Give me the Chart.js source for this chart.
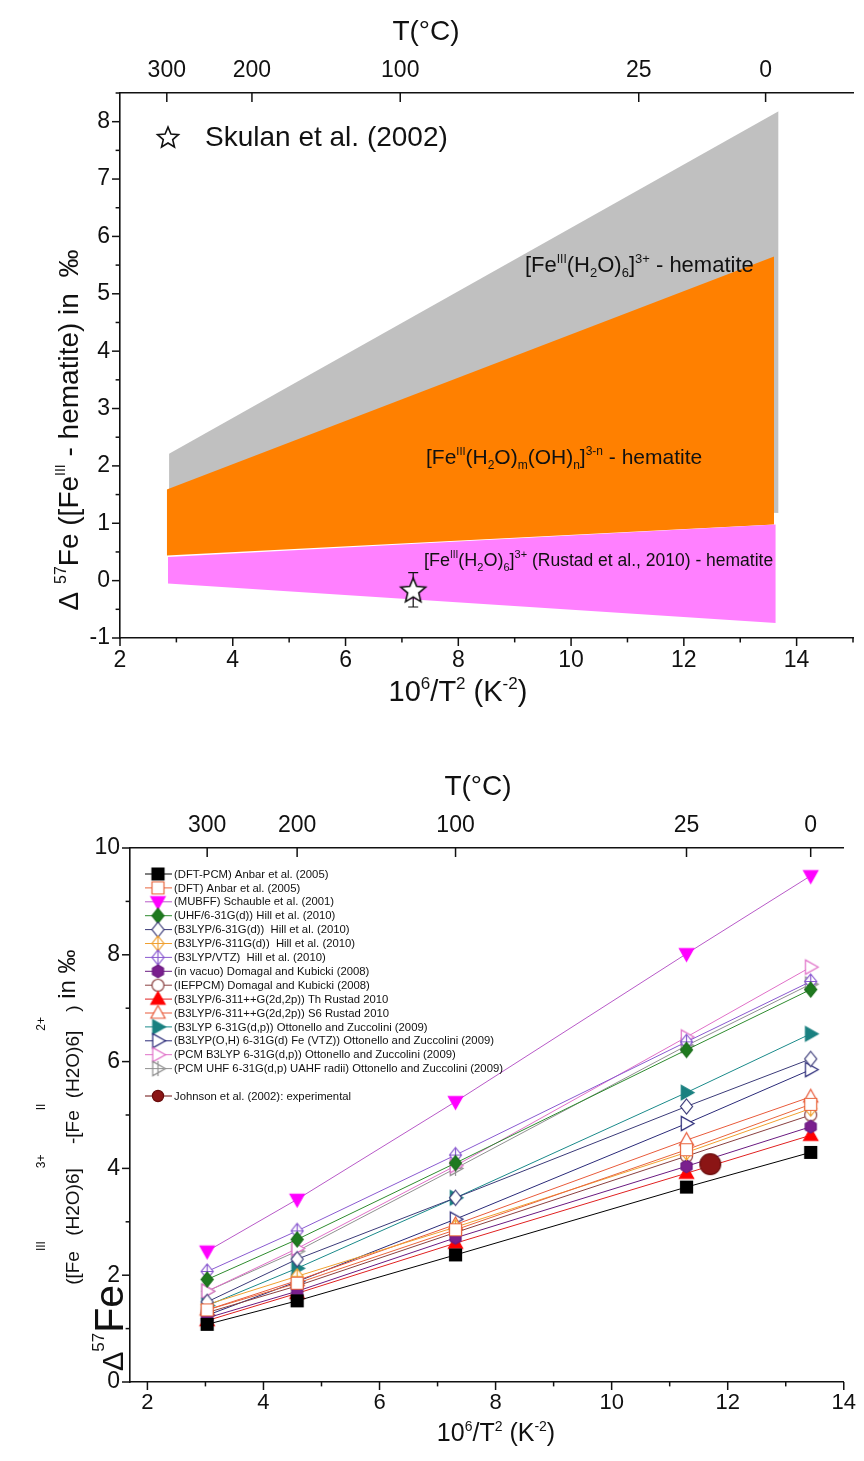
<!DOCTYPE html>
<html>
<head>
<meta charset="utf-8">
<script src="https://cdn.jsdelivr.net/npm/chart.js@4/dist/chart.umd.min.js"></script>
<style>
body { margin: 0; background: #fff; width: 864px; height: 1461px; overflow: hidden; position: relative; }
canvas { position: absolute; left: 0; }
</style>
</head>
<body>
<canvas id="topChart" width="864" height="730" style="top:0"></canvas>
<canvas id="botChart" width="864" height="731" style="top:730px"></canvas>
<script>
// ---- upper panel: fractionation bands vs hematite ----
var grayX = [2.87, 13.68],  grayLow = [1.59, 1.18],  grayHigh = [2.21, 8.18];
var orangeX = [2.83, 13.6], orangeLow = [0.44, 0.98], orangeHigh = [1.59, 5.65];
var pinkX = [2.85, 13.63],  pinkLow = [-0.05, -0.74], pinkHigh = [0.41, 0.98];
var skulanX = [7.2], skulanY = [-0.16], skulanErr = [0.3];

// temperature axis (top) labels and where they sit on the 10^6/T^2 axis
var tempLabels = ['300', '200', '100', '25', '0'];
var tempPosTop = [2.83, 4.34, 6.97, 11.2, 13.45];
var tempPosBot = [3.03, 4.58, 7.31, 11.29, 13.43];

// ---- lower panel: Fe(III)-Fe(II) hexaquo fractionation ----
var invT2 = [3.03, 4.58, 7.31, 11.29, 13.43];
var anbarPCM  = [1.08, 1.52, 2.38, 3.65, 4.30];
var anbarDFT  = [1.35, 1.85, 2.85, 4.35, 5.20];
var schauble  = [2.45, 3.42, 5.25, 8.02, 9.48];
var hillUHF   = [1.92, 2.67, 4.10, 6.22, 7.35];
var hill631   = [1.50, 2.30, 3.45, 5.16, 6.05];
var hill6311  = [1.45, 1.98, 2.90, 4.30, 5.12];
var hillVTZ   = [2.07, 2.83, 4.25, 6.37, 7.50];
var domVac    = [1.20, 1.70, 2.70, 4.04, 4.78];
var domPCM    = [1.30, 1.80, 2.80, 4.23, 5.00];
var rustadTh  = [1.15, 1.66, 2.60, 3.91, 4.62];
var rustadS6  = [1.35, 1.90, 2.95, 4.53, 5.34];
var ottB3     = [1.43, 2.13, 3.45, 5.42, 6.52];
var ottOH     = [1.25, 1.88, 3.05, 4.84, 5.85];
var ottPCMB3  = [1.70, 2.50, 4.05, 6.46, 7.77];
var ottPCMUHF = [1.70, 2.45, 4.00, 6.30, 7.45];
var johnsonX = [11.7], johnsonY = [4.08];

var FONT = '"Liberation Sans", Arial, sans-serif';
var INK = '#111';

function pts(xs, ys) {
    return xs.map(function (x, i) { return { x: x, y: ys[i] }; });
}

// draw a line of text made of pieces: [text, size, baseline shift]
function rich(ctx, parts, x, y, rot, align) {
    ctx.save();
    ctx.translate(x, y);
    ctx.rotate(rot || 0);
    var w = 0;
    parts.forEach(function (p) { ctx.font = p[1] + 'px ' + FONT; w += ctx.measureText(p[0]).width; });
    var cx = align === 'left' ? 0 : -w / 2;
    ctx.textAlign = 'left';
    ctx.textBaseline = 'alphabetic';
    ctx.fillStyle = INK;
    parts.forEach(function (p) {
        ctx.font = p[1] + 'px ' + FONT;
        ctx.fillText(p[0], cx, p[2] || 0);
        cx += ctx.measureText(p[0]).width;
    });
    ctx.restore();
}

function makeMarker(shape, stroke, fill, r) {
    var c = document.createElement('canvas');
    var n = Math.ceil(r * 2 + 4);
    c.width = c.height = n;
    var g = c.getContext('2d');
    g.translate(n / 2, n / 2);
    g.lineWidth = 1.2;
    g.strokeStyle = stroke;
    g.fillStyle = fill || '#fff';
    g.beginPath();
    var crossed = shape.charAt(0) === '+';
    var base = crossed ? shape.slice(1) : shape;
    if (base === 'square') g.rect(-r * 0.8, -r * 0.8, r * 1.6, r * 1.6);
    if (base === 'up') { g.moveTo(0, -r); g.lineTo(r * 0.95, r * 0.7); g.lineTo(-r * 0.95, r * 0.7); g.closePath(); }
    if (base === 'down') { g.moveTo(0, r); g.lineTo(r * 0.95, -r * 0.7); g.lineTo(-r * 0.95, -r * 0.7); g.closePath(); }
    if (base === 'right') { g.moveTo(r, 0); g.lineTo(-r * 0.7, -r * 0.95); g.lineTo(-r * 0.7, r * 0.95); g.closePath(); }
    if (base === 'diamond') { g.moveTo(0, -r); g.lineTo(r * 0.8, 0); g.lineTo(0, r); g.lineTo(-r * 0.8, 0); g.closePath(); }
    if (base === 'circle') g.arc(0, 0, r * 0.8, 0, Math.PI * 2);
    if (base === 'hex') {
        for (var k = 0; k < 6; k++) {
            var a = -Math.PI / 2 + k * Math.PI / 3;
            g.lineTo(r * 0.85 * Math.cos(a), r * 0.85 * Math.sin(a));
        }
        g.closePath();
    }
    g.fill();
    g.stroke();
    if (crossed) {
        g.beginPath();
        g.moveTo(0, -r); g.lineTo(0, r);
        g.moveTo(-r * 0.8, 0); g.lineTo(r * 0.8, 0);
        g.stroke();
    }
    return c;
}

function makeStar(R) {
    var c = document.createElement('canvas');
    var n = Math.ceil(R * 2 + 4);
    c.width = c.height = n;
    var g = c.getContext('2d');
    g.translate(n / 2, n / 2 + R * 0.1);
    g.beginPath();
    for (var k = 0; k < 10; k++) {
        var rr = k % 2 ? R * 0.45 : R;
        var a = -Math.PI / 2 + k * Math.PI / 5;
        g.lineTo(rr * Math.cos(a), rr * Math.sin(a));
    }
    g.closePath();
    g.fillStyle = '#fff';
    g.fill();
    g.lineWidth = 1.6;
    g.strokeStyle = INK;
    g.stroke();
    return c;
}

// tick marks drawn by hand so minor ticks can be shorter
function tickMarks(list) {
    return {
        id: 'tickMarks',
        afterDraw: function (chart) {
            var ctx = chart.ctx, a = chart.chartArea;
            ctx.save();
            ctx.strokeStyle = INK;
            ctx.lineWidth = 1.5;
            list.forEach(function (t) {
                var s = chart.scales[t.id];
                t.values.forEach(function (v) {
                    var len = t.major(v) ? t.len : t.len * 0.55;
                    var p = s.getPixelForValue(v);
                    ctx.beginPath();
                    if (t.side === 'left') { ctx.moveTo(a.left, p); ctx.lineTo(a.left - len, p); }
                    if (t.side === 'bottom') { ctx.moveTo(p, a.bottom); ctx.lineTo(p, a.bottom + len); }
                    if (t.side === 'top') { ctx.moveTo(p, a.top); ctx.lineTo(p, a.top + len); }
                    ctx.stroke();
                });
            });
            ctx.restore();
        }
    };
}

function steps(a, b, d) {
    var out = [];
    for (var v = a; v <= b + 1e-9; v += d) out.push(Math.round(v * 100) / 100);
    return out;
}

function axisX(min, max, first, last, h, pad, size) {
    return {
        type: 'linear', position: 'bottom', min: min, max: max,
        afterBuildTicks: function (s) { s.ticks = steps(first, last, 1).map(function (v) { return { value: v }; }); },
        ticks: { autoSkip: false, maxRotation: 0, padding: pad, color: INK,
                 font: { family: FONT, size: size },
                 callback: function (v) { return (v % 2 === 0) ? v : ''; } },
        grid: { display: true, drawOnChartArea: false, drawTicks: false },
        border: { color: INK, width: 1.6 },
        afterFit: function (s) { s.height = h; }
    };
}

function axisTop(min, max, pos, h, pad, size) {
    return {
        type: 'linear', position: 'top', min: min, max: max,
        afterBuildTicks: function (s) { s.ticks = pos.map(function (v) { return { value: v }; }); },
        ticks: { autoSkip: false, maxRotation: 0, padding: pad, color: INK,
                 font: { family: FONT, size: size },
                 callback: function (v, i) { return tempLabels[i]; } },
        grid: { display: true, drawOnChartArea: false, drawTicks: false },
        border: { color: INK, width: 1.6 },
        afterFit: function (s) { s.height = h; }
    };
}

// ================= upper chart =================
var starBig = makeStar(13), starSmall = makeStar(11);
var band = { borderWidth: 0, pointRadius: 0, tension: 0 };

var topAnnot = {
    id: 'topAnnot',
    beforeDatasetDraw: function (chart, args) {
        if (args.index !== 6) return;
        var ctx = chart.ctx, xs = chart.scales.x, ys = chart.scales.y;
        ctx.save();
        ctx.strokeStyle = INK;
        ctx.lineWidth = 1.2;
        skulanX.forEach(function (x, i) {
            var px = xs.getPixelForValue(x);
            var y1 = ys.getPixelForValue(skulanY[i] + skulanErr[i]);
            var y2 = ys.getPixelForValue(skulanY[i] - skulanErr[i]);
            ctx.beginPath();
            ctx.moveTo(px, y1); ctx.lineTo(px, y2);
            ctx.moveTo(px - 5, y1); ctx.lineTo(px + 5, y1);
            ctx.moveTo(px - 5, y2); ctx.lineTo(px + 5, y2);
            ctx.stroke();
        });
        ctx.restore();
    },
    afterDraw: function (chart) {
        var ctx = chart.ctx;
        // band labels
        rich(ctx, [['[Fe', 22], ['III', 12, -9], ['(H', 22], ['2', 13, 5], ['O)', 22], ['6', 13, 5],
                   [']', 22], ['3+', 13, -9], [' - hematite', 22]], 525, 272, 0, 'left');
        rich(ctx, [['[Fe', 21], ['III', 11, -9], ['(H', 21], ['2', 12, 5], ['O)', 21], ['m', 12, 5],
                   ['(OH)', 21], ['n', 12, 5], [']', 21], ['3-n', 12, -9], [' - hematite', 21]], 426, 464, 0, 'left');
        rich(ctx, [['[Fe', 18], ['III', 10, -8], ['(H', 18], ['2', 11, 5], ['O)', 18], ['6', 11, 5],
                   [']', 18], ['3+', 11, -8], [' (Rustad et al., 2010) - hematite', 17.5]], 424, 566, 0, 'left');
        // legend
        ctx.drawImage(starSmall, 168 - starSmall.width / 2, 137 - starSmall.height / 2);
        rich(ctx, [['Skulan et al. (2002)', 28]], 205, 146, 0, 'left');
        // axis titles
        rich(ctx, [['T(°C)', 28]], 426, 40);
        rich(ctx, [['10', 29], ['6', 17, -12], ['/T', 29], ['2', 17, -12], [' (K', 29], ['-2', 17, -12], [')', 29]], 458, 701);
        rich(ctx, [['Δ ', 28], ['57', 16, -12], ['Fe ([Fe', 28], ['III', 14, -13], [' - hematite) in  ‰', 28]],
             78, 430, -Math.PI / 2);
    }
};

new Chart(document.getElementById('topChart'), {
    type: 'line',
    data: {
        datasets: [
            Object.assign({ data: pts(grayX, grayLow), order: 12, fill: false }, band),
            Object.assign({ data: pts(grayX, grayHigh), order: 11, fill: 0, backgroundColor: '#c0c0c0' }, band),
            Object.assign({ data: pts(orangeX, orangeLow), order: 10, fill: false }, band),
            Object.assign({ data: pts(orangeX, orangeHigh), order: 9, fill: 2, backgroundColor: '#ff8000' }, band),
            Object.assign({ data: pts(pinkX, pinkLow), order: 8, fill: false }, band),
            Object.assign({ data: pts(pinkX, pinkHigh), order: 7, fill: 4, backgroundColor: '#ff80ff' }, band),
            { type: 'scatter', data: pts(skulanX, skulanY), order: 0, pointStyle: starBig, pointRadius: 10 }
        ]
    },
    options: {
        responsive: false, animation: false, events: [],
        layout: { padding: { left: 0, right: 2, top: 0, bottom: 0 } },
        plugins: { legend: { display: false }, tooltip: { enabled: false } },
        scales: {
            x: axisX(2, 15, 2, 15, 92, 9, 23),
            x2: axisTop(2, 15, tempPosTop, 93, 9, 23),
            y: {
                min: -1, max: 8.5,
                ticks: { stepSize: 1, padding: 10, color: INK, font: { family: FONT, size: 23 },
                         callback: function (v) { return Number.isInteger(v) ? v : ''; } },
                grid: { display: true, drawOnChartArea: false, drawTicks: false },
                border: { color: INK, width: 1.6 },
                afterFit: function (s) { s.width = 120; }
            }
        }
    },
    plugins: [topAnnot, tickMarks([
        { id: 'x', side: 'bottom', len: 8, values: steps(2, 15, 1), major: function (v) { return v % 2 === 0; } },
        { id: 'y', side: 'left', len: 8, values: steps(-1, 8.5, 0.5), major: function (v) { return Number.isInteger(v); } },
        { id: 'x2', side: 'top', len: 9, values: tempPosTop, major: function () { return true; } }
    ])]
});

// ================= lower chart =================
var series = [
    { label: '(DFT-PCM) Anbar et al. (2005)', y: anbarPCM, line: '#000000', shape: 'square', stroke: '#000', fill: '#000' },
    { label: '(DFT) Anbar et al. (2005)', y: anbarDFT, line: '#e8653c', shape: 'square', stroke: '#e8653c', fill: null },
    { label: '(MUBFF) Schauble et al. (2001)', y: schauble, line: '#b85ac8', shape: 'down', stroke: '#ff00ff', fill: '#ff00ff' },
    { label: '(UHF/6-31G(d)) Hill et al. (2010)', y: hillUHF, line: '#2e8b2e', shape: 'diamond', stroke: '#1a6e1a', fill: '#1f7a1f' },
    { label: '(B3LYP/6-31G(d))  Hill et al. (2010)', y: hill631, line: '#3a3a78', shape: 'diamond', stroke: '#3a3a78', fill: null },
    { label: '(B3LYP/6-311G(d))  Hill et al. (2010)', y: hill6311, line: '#f0a030', shape: '+diamond', stroke: '#f0a030', fill: null },
    { label: '(B3LYP/VTZ)  Hill et al. (2010)', y: hillVTZ, line: '#8a5ad0', shape: '+diamond', stroke: '#8a5ad0', fill: null },
    { label: '(in vacuo) Domagal and Kubicki (2008)', y: domVac, line: '#6a1a80', shape: 'hex', stroke: '#6a1a80', fill: '#7a1f8e' },
    { label: '(IEFPCM) Domagal and Kubicki (2008)', y: domPCM, line: '#8a4040', shape: 'circle', stroke: '#8a4040', fill: null },
    { label: '(B3LYP/6-311++G(2d,2p)) Th Rustad 2010', y: rustadTh, line: '#e02020', shape: 'up', stroke: '#ff0000', fill: '#ff0000' },
    { label: '(B3LYP/6-311++G(2d,2p)) S6 Rustad 2010', y: rustadS6, line: '#e85a3a', shape: 'up', stroke: '#e85a3a', fill: null },
    { label: '(B3LYP 6-31G(d,p)) Ottonello and Zuccolini (2009)', y: ottB3, line: '#1a8a8a', shape: 'right', stroke: '#1a8080', fill: '#1a8080' },
    { label: '(B3LYP(O,H) 6-31G(d) Fe (VTZ)) Ottonello and Zuccolini (2009)', y: ottOH, line: '#2a2a78', shape: 'right', stroke: '#2a2a78', fill: null },
    { label: '(PCM B3LYP 6-31G(d,p)) Ottonello and Zuccolini (2009)', y: ottPCMB3, line: '#e070c8', shape: 'right', stroke: '#e070c8', fill: null },
    { label: '(PCM UHF 6-31G(d,p) UAHF radii) Ottonello and Zuccolini (2009)', y: ottPCMUHF, line: '#909090', shape: '+right', stroke: '#909090', fill: null }
];
var johnsonBig = makeMarker('circle', '#6a0c0c', '#8b1515', 13);
var johnsonSmall = makeMarker('circle', '#6a0c0c', '#8b1515', 7);

var datasets = series.map(function (s) {
    s.img = makeMarker(s.shape, s.stroke, s.fill, 7.5);
    return {
        type: 'scatter', showLine: true, data: pts(invT2, s.y),
        borderColor: s.line, borderWidth: 1, pointStyle: s.img, pointRadius: 6
    };
});
datasets.unshift({ type: 'scatter', data: pts(johnsonX, johnsonY), pointStyle: johnsonBig, pointRadius: 10 });

var botAnnot = {
    id: 'botAnnot',
    afterDraw: function (chart) {
        var ctx = chart.ctx, a = chart.chartArea;
        // legend inside plot
        function row(img, color, text, y) {
            ctx.strokeStyle = color;
            ctx.lineWidth = 1;
            ctx.beginPath(); ctx.moveTo(a.left + 15, y); ctx.lineTo(a.left + 42, y); ctx.stroke();
            ctx.drawImage(img, a.left + 28 - img.width / 2, y - img.height / 2);
            ctx.fillStyle = INK;
            ctx.font = '11.3px ' + FONT;
            ctx.textBaseline = 'middle';
            ctx.fillText(text, a.left + 44, y + 0.5);
        }
        series.forEach(function (s, i) { row(s.img, s.line, s.label, a.top + 26 + i * 13.9); });
        row(johnsonSmall, '#6a0c0c', 'Johnson et al. (2002): experimental', a.top + 248);
        ctx.textBaseline = 'alphabetic';
        // axis titles
        rich(ctx, [['T(°C)', 28]], 478, 65);
        rich(ctx, [['10', 25], ['6', 14, -10], ['/T', 25], ['2', 14, -10], [' (K', 25], ['-2', 14, -10], [')', 25]], 496, 711);
        rich(ctx, [['Δ', 29], ['57', 17, -19], ['Fe', 41],
                   ['([Fe', 19, -44], ['III', 12, -78], [' (H2O)6]', 19, -44], ['3+', 12, -78],
                   ['  -[Fe', 19, -44], ['II', 12, -78], [' (H2O)6]', 19, -44], ['2+', 12, -78],
                   [' )', 19, -44], [' in ', 24, -48], ['‰', 24, -48]],
             123, 641, -Math.PI / 2, 'left');
    }
};

new Chart(document.getElementById('botChart'), {
    type: 'scatter',
    data: { datasets: datasets },
    options: {
        responsive: false, animation: false, events: [],
        layout: { padding: { left: 0, right: 14, top: 0, bottom: 0 } },
        plugins: { legend: { display: false }, tooltip: { enabled: false } },
        scales: {
            x: axisX(1.7, 14, 2, 14, 79, 8, 22),
            x2: axisTop(1.7, 14, tempPosBot, 118, 9, 23),
            y: {
                min: 0, max: 10,
                ticks: { stepSize: 1, padding: 10, color: INK, font: { family: FONT, size: 23 },
                         callback: function (v) { return v % 2 === 0 ? v : ''; } },
                grid: { display: true, drawOnChartArea: false, drawTicks: false },
                border: { color: INK, width: 1.6 },
                afterFit: function (s) { s.width = 130; }
            }
        }
    },
    plugins: [botAnnot, tickMarks([
        { id: 'x', side: 'bottom', len: 8, values: steps(2, 14, 1), major: function (v) { return v % 2 === 0; } },
        { id: 'y', side: 'left', len: 8, values: steps(0, 10, 1), major: function (v) { return v % 2 === 0; } },
        { id: 'x2', side: 'top', len: 9, values: tempPosBot, major: function () { return true; } }
    ])]
});
</script>
</body>
</html>
